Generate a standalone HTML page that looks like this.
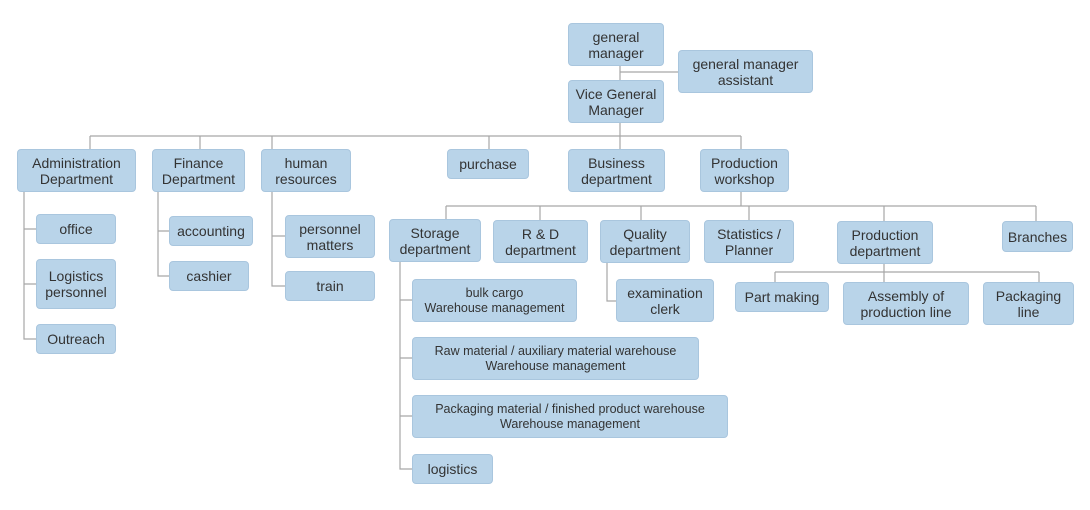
<!DOCTYPE html>
<html><head><meta charset="utf-8"><style>
body{margin:0;width:1090px;height:510px;background:#fff;position:relative;overflow:hidden;font-family:"Liberation Sans","DejaVu Sans",sans-serif;}
.b{position:absolute;box-sizing:border-box;background:#b9d4e9;border:1px solid #a9c6de;border-radius:4px;display:flex;align-items:center;justify-content:center;text-align:center;color:#333;font-size:14px;line-height:16px;}
.s{font-size:12.5px;line-height:15px;}
svg{position:absolute;left:0;top:0;}
</style></head><body>
<svg width="1090" height="510"><g stroke="#a6a6a6" stroke-width="1.2" fill="none">
<path d="M620 65V80M620 72H678M620 122V136M90 136H741M90 136V149M200 136V149M272 136V149M489 136V149M620 136V149M741 136V149"/>
<path d="M24 191V339H36M24 229H36M24 284H36"/>
<path d="M158 191V276H169M158 231H169"/>
<path d="M272 191V286H285M272 236H285"/>
<path d="M741 191V206M446 206H1036M446 206V219M540 206V220M641 206V220M749 206V220M884 206V221M1036 206V221"/>
<path d="M400 261V469H412M400 300H412M400 358H412M400 416H412"/>
<path d="M607 262V301H616"/>
<path d="M884 263V272M775 272H1039M775 272V282M884 272V282M1039 272V282"/>
</g></svg>
<div class="b" style="left:568px;top:23px;width:96px;height:43px">general<br>manager</div>
<div class="b" style="left:678px;top:50px;width:135px;height:43px">general manager<br>assistant</div>
<div class="b" style="left:568px;top:80px;width:96px;height:43px">Vice General<br>Manager</div>
<div class="b" style="left:17px;top:149px;width:119px;height:43px">Administration<br>Department</div>
<div class="b" style="left:152px;top:149px;width:93px;height:43px">Finance<br>Department</div>
<div class="b" style="left:261px;top:149px;width:90px;height:43px">human<br>resources</div>
<div class="b" style="left:447px;top:149px;width:82px;height:30px">purchase</div>
<div class="b" style="left:568px;top:149px;width:97px;height:43px">Business<br>department</div>
<div class="b" style="left:700px;top:149px;width:89px;height:43px">Production<br>workshop</div>
<div class="b" style="left:36px;top:214px;width:80px;height:30px">office</div>
<div class="b" style="left:36px;top:259px;width:80px;height:50px">Logistics<br>personnel</div>
<div class="b" style="left:36px;top:324px;width:80px;height:30px">Outreach</div>
<div class="b" style="left:169px;top:216px;width:84px;height:30px">accounting</div>
<div class="b" style="left:169px;top:261px;width:80px;height:30px">cashier</div>
<div class="b" style="left:285px;top:215px;width:90px;height:43px">personnel<br>matters</div>
<div class="b" style="left:285px;top:271px;width:90px;height:30px">train</div>
<div class="b" style="left:389px;top:219px;width:92px;height:43px">Storage<br>department</div>
<div class="b" style="left:493px;top:220px;width:95px;height:43px">R &amp; D<br>department</div>
<div class="b" style="left:600px;top:220px;width:90px;height:43px">Quality<br>department</div>
<div class="b" style="left:704px;top:220px;width:90px;height:43px">Statistics /<br>Planner</div>
<div class="b" style="left:837px;top:221px;width:96px;height:43px">Production<br>department</div>
<div class="b" style="left:1002px;top:221px;width:71px;height:31px">Branches</div>
<div class="b s" style="left:412px;top:279px;width:165px;height:43px">bulk cargo<br>Warehouse management</div>
<div class="b s" style="left:412px;top:337px;width:287px;height:43px">Raw material / auxiliary material warehouse<br>Warehouse management</div>
<div class="b s" style="left:412px;top:395px;width:316px;height:43px">Packaging material / finished product warehouse<br>Warehouse management</div>
<div class="b" style="left:412px;top:454px;width:81px;height:30px">logistics</div>
<div class="b" style="left:616px;top:279px;width:98px;height:43px">examination<br>clerk</div>
<div class="b" style="left:735px;top:282px;width:94px;height:30px">Part making</div>
<div class="b" style="left:843px;top:282px;width:126px;height:43px">Assembly of<br>production line</div>
<div class="b" style="left:983px;top:282px;width:91px;height:43px">Packaging<br>line</div>
</body></html>
